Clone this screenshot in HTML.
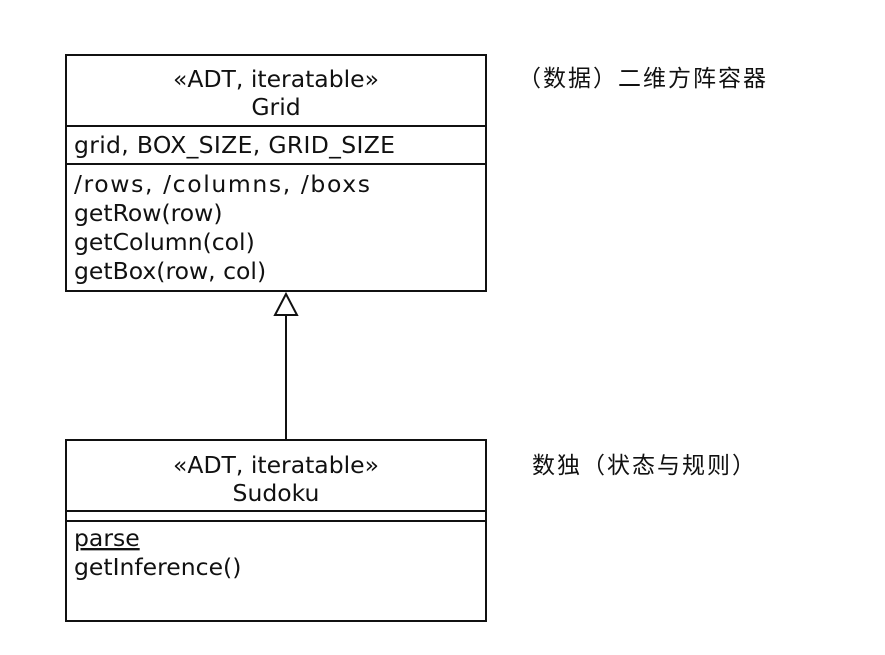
<!DOCTYPE html>
<html><head><meta charset="utf-8"><style>
html,body{margin:0;padding:0;background:#fff;}
svg{display:block}
text{font-family:"DejaVu Sans","Liberation Sans",sans-serif;font-size:23.5px;fill:#111;}
.cjk{font-family:"Liberation Sans","Noto Sans CJK SC",sans-serif;font-size:23px;letter-spacing:2px;}
</style></head><body>
<svg width="885" height="655" viewBox="0 0 885 655" xmlns="http://www.w3.org/2000/svg">
<rect x="0" y="0" width="885" height="655" fill="#fff"/>
<g stroke="#111" stroke-width="2" fill="none">
<rect x="66" y="55" width="420" height="236"/>
<line x1="66" y1="126" x2="486" y2="126"/>
<line x1="66" y1="164" x2="486" y2="164"/>
<rect x="66" y="440" width="420" height="181"/>
<line x1="66" y1="511" x2="486" y2="511"/>
<line x1="66" y1="521" x2="486" y2="521"/>
<line x1="286" y1="315" x2="286" y2="440"/>
<polygon points="286,294 275,315 297,315" fill="#fff"/>
</g>
<text x="276" y="87" text-anchor="middle">«ADT, iteratable»</text>
<text x="276" y="115" text-anchor="middle">Grid</text>
<text x="74" y="153" textLength="321">grid, BOX_SIZE, GRID_SIZE</text>
<text x="74" y="192" textLength="296">/rows, /columns, /boxs</text>
<text x="74" y="221">getRow(row)</text>
<text x="74" y="250">getColumn(col)</text>
<text x="74" y="279">getBox(row, col)</text>
<text x="276" y="473" text-anchor="middle">«ADT, iteratable»</text>
<text x="276" y="501" text-anchor="middle">Sudoku</text>
<text x="74" y="546" text-decoration="underline">parse</text>
<text x="74" y="575">getInference()</text>
<text class="cjk" x="518" y="86">（数据）二维方阵容器</text>
<text class="cjk" x="532" y="473">数独（状态与规则）</text>
</svg>
</body></html>
